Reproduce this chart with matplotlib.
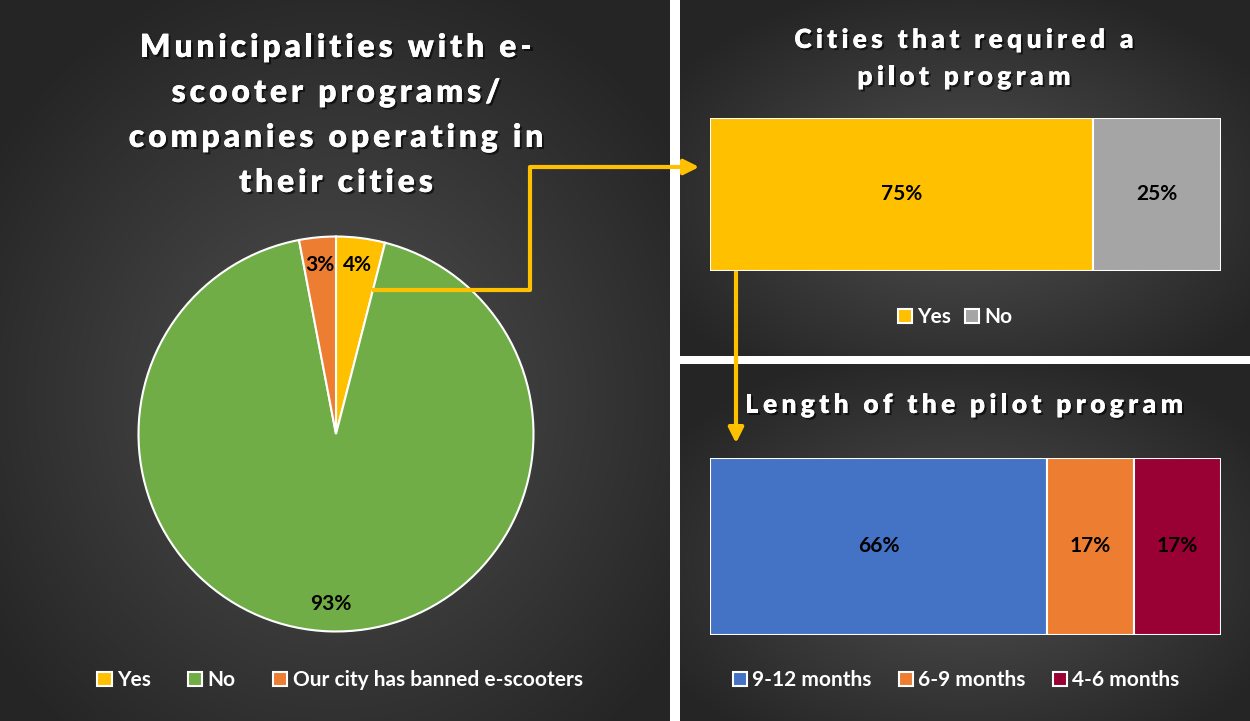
import numpy as np
import matplotlib
matplotlib.use("Agg")
import matplotlib.pyplot as plt
import matplotlib.patheffects as pe
from matplotlib.font_manager import FontProperties

# data
pie_labels = ["Yes", "No", "Our city has banned e-scooters"]
pie_values = [4, 93, 3]
pie_colors = ["#FFC000", "#70AD47", "#ED7D31"]

pilot_labels = ["Yes", "No"]
pilot_values = [75, 25]
pilot_colors = ["#FFC000", "#A5A5A5"]

length_labels = ["9-12 months", "6-9 months", "4-6 months"]
length_values = [66, 17, 17]
length_colors = ["#4472C4", "#ED7D31", "#990033"]

W, H = 1250, 721
plt.rcParams["font.family"] = ["Lato", "DejaVu Sans"]
plt.rcParams["font.weight"] = "bold"

fig = plt.figure(figsize=(W / 100, H / 100), dpi=100, facecolor="white")
renderer = fig.canvas.get_renderer()


def px_axes(x0, y0, w, h, **kw):
    # axes placed in pixel coords (top-left origin)
    return fig.add_axes([x0 / W, 1 - (y0 + h) / H, w / W, h / H], **kw)


def radial(w, h, cx, cy, inner=0x50, outer=0x25):
    yy, xx = np.mgrid[0:h, 0:w]
    d = np.sqrt(((xx - cx) / (w * 0.62)) ** 2 + ((yy - cy) / (h * 0.62)) ** 2)
    d = np.clip(d, 0, 1)
    v = (inner + (outer - inner) * d) / 255.0
    return np.dstack([v, v, v])


shadow = [pe.withSimplePatchShadow(offset=(1.5, -1.5), shadow_rgbFace="black", alpha=0.6), pe.Normal()]


def spaced_line(xc, ybase, s, size, sp):
    # title text with extra letter spacing, like the original
    fp = FontProperties(family="Lato", weight="heavy", size=size)
    wid = lambda t: renderer.get_text_width_height_descent(t, fp, ismath=False)[0]
    base = wid("HH")
    advs = [wid("H" + c + "H") - base for c in s]
    total = sum(advs) + sp * (len(s) - 1)
    x = xc - total / 2
    for c, a in zip(s, advs):
        if c != " ":
            fig.text((x + a / 2) / W, 1 - ybase / H, c, ha="center", va="baseline", color="white",
                     fontproperties=fp, path_effects=shadow)
        x += a + sp


bg = px_axes(0, 0, W, H)
bg.axis("off")
panels = [(0, 0, 670, 721), (680, 0, 570, 356), (680, 364, 570, 357)]
for (x0, y0, w, h) in panels:
    img = radial(w, h, w * 0.5, h * 0.55)
    bg.imshow(img, extent=(x0, x0 + w, y0 + h, y0), aspect="auto", interpolation="bilinear")
bg.set_xlim(0, W)
bg.set_ylim(H, 0)

# left pie
title_left = ["Municipalities with e-", "scooter programs/", "companies operating in", "their cities"]
for i, line in enumerate(title_left):
    spaced_line(336, 57 + 45 * i, line, 23, 3.8)

pax = px_axes(136, 234, 400, 400)
wedges, _, autotexts = pax.pie(pie_values, colors=pie_colors, startangle=90, counterclock=False,
                               radius=197.5 / 200, autopct=lambda p: f"{p:.0f}%", pctdistance=0.86,
                               wedgeprops=dict(edgecolor="white", linewidth=1.5),
                               textprops=dict(color="black", fontsize=15, fontweight="bold"))
pax.set_xlim(-1, 1)
pax.set_ylim(-1, 1)
pax.set_aspect("equal")
leg = fig.legend(wedges, pie_labels, loc="center", bbox_to_anchor=(340 / W, 1 - 680 / H), ncol=3,
                 frameon=False, labelcolor="white", prop=dict(family="Lato", size=15, weight="bold"),
                 handlelength=0.68, handleheight=0.68, handletextpad=0.25, columnspacing=1.8)

# top right: pilot program
spaced_line(964, 48, "Cities that required a", 19, 4.3)
spaced_line(964, 85, "pilot program", 19, 4.3)
tax = px_axes(710, 118, 511, 153)
left = 0
tbars = []
for lab, val, col in zip(pilot_labels, pilot_values, pilot_colors):
    b = tax.barh([0], [val], left=left, height=1.0, color=col, edgecolor="white", linewidth=1.5, label=lab)
    tax.text(left + val / 2, 0, f"{val}%", ha="center", va="center", fontsize=15, fontweight="bold", color="black")
    tbars.append(b[0])
    left += val
tax.set_xlim(0, 100)
tax.set_ylim(-0.5, 0.5)
tax.axis("off")
leg2 = fig.legend(tbars, pilot_labels, loc="center", bbox_to_anchor=(955 / W, 1 - 317 / H), ncol=2,
                  frameon=False, labelcolor="white", prop=dict(family="Lato", size=15, weight="bold"),
                  handlelength=0.68, handleheight=0.68, handletextpad=0.25, columnspacing=0.68)

# bottom right: length
spaced_line(964, 413, "Length of the pilot program", 19, 4.3)
bax = px_axes(710, 458, 511, 177)
left = 0
bbars = []
for lab, val, col in zip(length_labels, length_values, length_colors):
    b = bax.barh([0], [val], left=left, height=1.0, color=col, edgecolor="white", linewidth=1.5, label=lab)
    bax.text(left + val / 2, 0, f"{val}%", ha="center", va="center", fontsize=15, fontweight="bold", color="black")
    bbars.append(b[0])
    left += val
bax.set_xlim(0, 100)
bax.set_ylim(-0.5, 0.5)
bax.axis("off")
leg3 = fig.legend(bbars, length_labels, loc="center", bbox_to_anchor=(956 / W, 1 - 680 / H), ncol=3,
                  frameon=False, labelcolor="white", prop=dict(family="Lato", size=15, weight="bold"),
                  handlelength=0.68, handleheight=0.68, handletextpad=0.25, columnspacing=1.3)
for lg in (leg, leg2, leg3):
    for h in lg.legend_handles:
        h.set_edgecolor("white")
        h.set_linewidth(1.5)

# connector arrows
ov = px_axes(0, 0, W, H)
ov.set_xlim(0, W)
ov.set_ylim(H, 0)
ov.axis("off")
ov.patch.set_alpha(0)
arrow_col = "#FFC000"
ov.plot([372, 530, 530, 690], [290, 290, 167, 167], color=arrow_col, lw=3, solid_capstyle="butt")
ov.annotate("", xy=(702, 167), xytext=(685, 167),
            arrowprops=dict(arrowstyle="-|>,head_length=0.9,head_width=0.45", color=arrow_col, lw=3))
ov.plot([736, 736], [271, 430], color=arrow_col, lw=3, solid_capstyle="butt")
ov.annotate("", xy=(736, 446), xytext=(736, 425),
            arrowprops=dict(arrowstyle="-|>,head_length=0.9,head_width=0.45", color=arrow_col, lw=3))

fig.savefig("out.png", dpi=100, facecolor="white")
